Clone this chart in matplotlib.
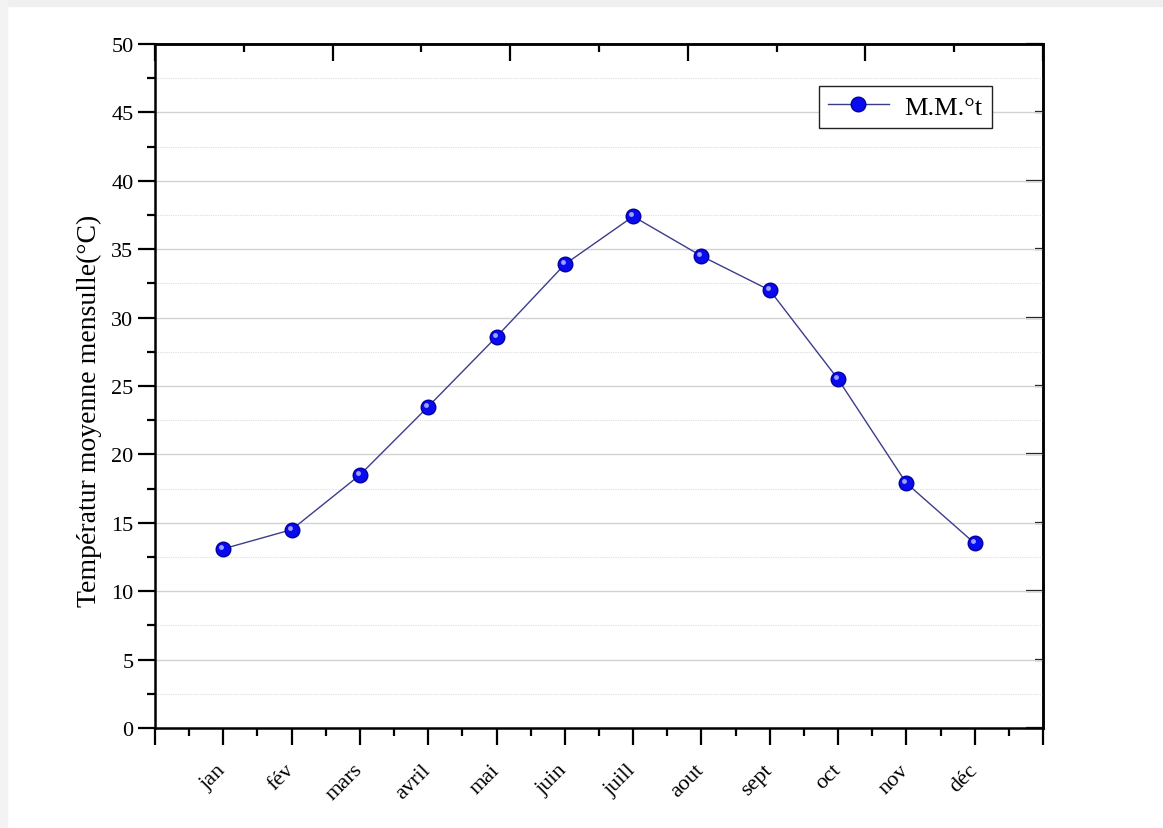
import matplotlib
matplotlib.use("Agg")
import matplotlib.pyplot as plt
import matplotlib.patches as mpatches
from matplotlib.ticker import MultipleLocator
from matplotlib.lines import Line2D

months = ["jan", "fév", "mars", "avril", "mai", "juin",
          "juill", "aout", "sept", "oct", "nov", "déc"]
temps = [13.1, 14.5, 18.5, 23.5, 28.6, 33.9, 37.4, 34.5, 32.0, 25.5, 17.9, 13.5]
series_label = "M.M.°t"
ylabel = "Températur moyenne mensulle(°C)"

plt.rcParams['font.family'] = ['Liberation Serif', 'DejaVu Serif']

fig = plt.figure(figsize=(11.63, 8.29), dpi=100)
# faint grey frame along top and left edge of the screenshot
fig.patches.append(mpatches.Rectangle((0, 0.991), 1, 0.009, transform=fig.transFigure,
                                      color='#efefef', zorder=0))
fig.patches.append(mpatches.Rectangle((0, 0), 0.006, 1, transform=fig.transFigure,
                                      color='#f3f3f3', zorder=0))

ax = fig.add_axes([0.1333, 0.1206, 0.7635, 0.8251])

x = list(range(1, len(months) + 1))
line_col = '#3c3c8e'
ax.plot(x, temps, color=line_col, lw=1.0, zorder=3)
ax.plot(x, temps, 'o', ms=10.5, mfc='#0a0af0', mec='#0000a0', mew=1.0, zorder=4)
# little highlight to look like Origin's sphere symbol
ax.plot(x, temps, 'o', ms=3.5, mfc='#a0a0ff', mec='none', zorder=5,
        transform=ax.transData + matplotlib.transforms.ScaledTranslation(-2/100, 2/100, fig.dpi_scale_trans))

ax.set_xlim(0, 13)
ax.set_ylim(0, 50)
ax.set_xticks(range(0, 14))
ax.set_xticklabels([""] + months + [""])
ax.xaxis.set_minor_locator(MultipleLocator(0.5))
ax.yaxis.set_major_locator(MultipleLocator(5))
ax.yaxis.set_minor_locator(MultipleLocator(2.5))

ax.tick_params(axis='both', which='major', direction='out', length=12, width=1.6,
               labelsize=16, top=False, right=False)
ax.tick_params(axis='both', which='minor', direction='out', length=6, width=1.6,
               top=False, right=False)
ax.tick_params(axis='x', which='major', pad=16)

for lbl in ax.get_xticklabels():
    lbl.set_rotation(45)
    lbl.set_ha('right')
    lbl.set_va('center')
    lbl.set_rotation_mode('anchor')

ax.grid(axis='y', which='major', color='#d2d2d2', lw=1.0, zorder=0)
ax.grid(axis='y', which='minor', color='#dedede', lw=0.8, ls=(0, (1, 1)), zorder=0)
ax.set_axisbelow(True)

for sp in ax.spines.values():
    sp.set_linewidth(1.8)

ax.set_ylabel(ylabel, fontsize=20)
ax.yaxis.set_label_coords(-0.06, 0.465)

# top / right axes as Origin draws them: inward ticks, no labels
top = ax.secondary_xaxis('top', functions=(lambda v: v * 10 / 13, lambda v: v * 13 / 10))
top.xaxis.set_major_locator(MultipleLocator(2))
top.xaxis.set_minor_locator(MultipleLocator(1))
top.tick_params(which='major', direction='in', length=12, width=1.6, labeltop=False)
top.tick_params(which='minor', direction='in', length=6, width=1.6)
top.spines['top'].set_linewidth(1.8)

right = ax.secondary_yaxis('right')
right.yaxis.set_major_locator(MultipleLocator(10))
right.yaxis.set_minor_locator(MultipleLocator(5))
right.tick_params(which='major', direction='in', length=12, width=1.6, labelright=False)
right.tick_params(which='minor', direction='in', length=6, width=1.6)
right.spines['right'].set_linewidth(1.8)

handle = Line2D([], [], color=line_col, lw=1.0, marker='o', ms=10.5,
                mfc='#0a0af0', mec='#0000a0')
leg = ax.legend([handle], [series_label], loc='upper right',
                bbox_to_anchor=(0.9426, 0.9386), borderaxespad=0, fontsize=19,
                frameon=True, fancybox=False, framealpha=1, edgecolor='#222222',
                handlelength=2.3, borderpad=0.35, handletextpad=0.6)
leg.get_frame().set_linewidth(1.0)

fig.savefig("out.png", dpi=100)
